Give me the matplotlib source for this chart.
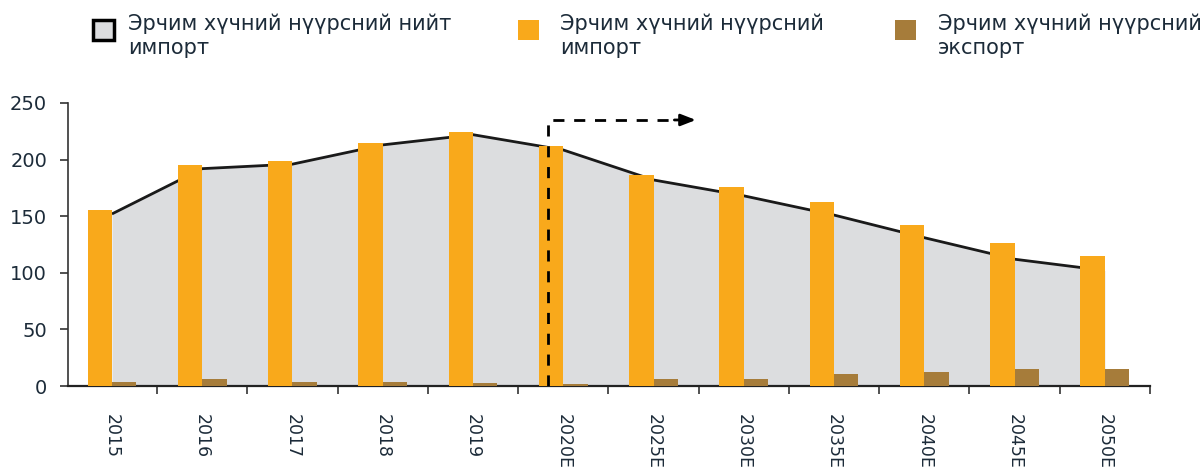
#!/usr/bin/env python3

# coal_trade.py - Coal for power: net import, import and export bars

import matplotlib.pyplot as plt
from matplotlib.patches import Rectangle
import numpy as np

YEARS = ["2015", "2016", "2017", "2018", "2019", "2020E",
         "2025E", "2030E", "2035E", "2040E", "2045E", "2050E"]
IMPORT = [155.5, 195, 199, 215, 224, 212, 186, 176, 162.5, 142, 126, 115]
EXPORT = [3.5, 6, 3.5, 3.5, 2.5, 2, 6, 6, 10.5, 12.5, 15, 15]
NET_IMPORT = [152, 192, 196, 213, 222, 208.5, 182, 168, 151, 131, 112, 102]

LABELS = [
    "Эрчим хүчний нүүрсний нийт\nимпорт",
    "Эрчим хүчний нүүрсний\nимпорт",
    "Эрчим хүчний нүүрсний\nэкспорт",
]

ORANGE = "#F9A91B"
BROWN = "#A67C3A"
GREY = "#DCDDDF"
NAVY = "#1C2B39"

FORECAST_START = "2020E"
ARROW_Y = 235

plt.rcParams["font.family"] = ["DejaVu Sans"]

W = 0.27
x = np.arange(len(YEARS))
FW, FH = 1202, 474

fig = plt.figure(figsize=(FW / 100, FH / 100), dpi=100)
ax = fig.add_axes([68 / FW, 88 / FH, (1150 - 68) / FW, 283 / FH])

# Net import: grey area with dark outline
ax.fill_between(x, NET_IMPORT, 0, color=GREY, lw=0, zorder=1)
ax.plot(x, NET_IMPORT, color="#1a1a1a", lw=2, zorder=2, solid_capstyle="butt")

ax.bar(x - W / 2, IMPORT, W, color=ORANGE, zorder=3)
ax.bar(x + W / 2, EXPORT, W, color=BROWN, zorder=3)

# Forecast marker: dashed elbow with an arrow
xf = YEARS.index(FORECAST_START) - 0.17
ax.plot([xf, xf, 6.25], [0, ARROW_Y, ARROW_Y], color="k", lw=2,
        ls=(0, (4, 3.5)), zorder=4, solid_joinstyle="miter")
ax.annotate("", xy=(6.5, ARROW_Y), xytext=(6.2, ARROW_Y),
            arrowprops=dict(arrowstyle="-|>,head_length=0.9,head_width=0.35",
                            color="k", lw=2), zorder=5)

# Axes styling
ax.set_xlim(-0.487, 11.48)
ax.set_ylim(0, 250)
ax.set_yticks(range(0, 251, 50))
for side in ("top", "right"):
    ax.spines[side].set_visible(False)
ax.spines["left"].set_color("#333333")
ax.spines["left"].set_linewidth(1.2)
ax.spines["bottom"].set_color("#222222")
ax.spines["bottom"].set_linewidth(1.6)
ax.tick_params(axis="y", length=6, width=1.2, color="#333333", pad=9,
               labelsize=14, labelcolor=NAVY)

ax.set_xticks(x)
ax.set_xticklabels(YEARS, rotation=-90)
ax.tick_params(axis="x", which="major", length=0, pad=20,
               labelsize=12.5, labelcolor=NAVY)
ax.set_xticks(x + 0.5, minor=True)
ax.tick_params(axis="x", which="minor", length=6, width=1.2, color="#333333")

# Legend on top, drawn by hand: (square left, text left) in pixels
legend_pos = [(93, 128), (518, 560), (895, 938)]
legend_style = [
    dict(facecolor=GREY, edgecolor="black", lw=2.5),
    dict(facecolor=ORANGE, lw=0),
    dict(facecolor=BROWN, lw=0),
]
for (sx, tx), style, label in zip(legend_pos, legend_style, LABELS):
    fig.add_artist(Rectangle((sx / FW, 1 - 40 / FH), 21 / FW, 20 / FH,
                             transform=fig.transFigure, **style))
    fig.text(tx / FW, 1 - 13 / FH, label, fontsize=15, color=NAVY,
             va="top", ha="left", linespacing=1.3)

fig.savefig("out.png", dpi=100)
